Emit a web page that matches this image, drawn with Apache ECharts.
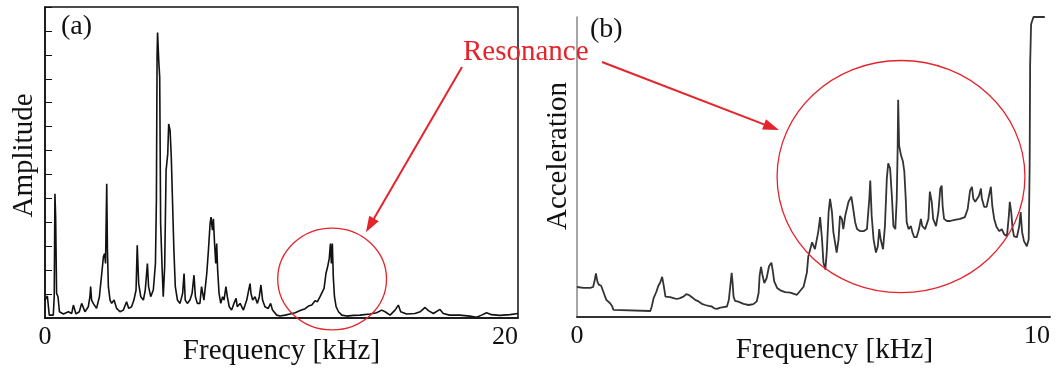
<!DOCTYPE html>
<html>
<head>
<meta charset="utf-8">
<script src="https://cdn.jsdelivr.net/npm/echarts@6/dist/echarts.min.js"></script>
<style>
  html, body { margin: 0; padding: 0; background: #fff; }
  #chart { width: 1061px; height: 370px; }
</style>
</head>
<body>
<div id="chart"></div>
<script>
// (a) amplitude spectrum, 0–20 kHz
const freqA = [
  0, 0.10, 0.18, 0.35, 0.39, 0.42, 0.45, 0.49, 0.55, 0.61, 0.78, 0.99, 1.13, 1.20, 1.31, 1.45, 1.55, 1.69, 1.83, 1.90,
  1.93, 1.97, 2.04, 2.18, 2.30, 2.40, 2.47, 2.52, 2.56, 2.61, 2.64, 2.68, 2.75, 2.82, 2.92, 3.03, 3.17, 3.31, 3.45, 3.54,
  3.66, 3.76, 3.85, 3.90, 3.96, 4.05, 4.16, 4.24, 4.33, 4.38, 4.47, 4.58, 4.67, 4.71, 4.74, 4.76, 4.81, 4.85, 4.89, 4.95,
  5.00, 5.06, 5.12, 5.19, 5.23, 5.29, 5.34, 5.41, 5.45, 5.51, 5.60, 5.71, 5.82, 5.88, 5.93, 6.02, 6.13, 6.22, 6.30, 6.36,
  6.44, 6.55, 6.62, 6.72, 6.84, 6.91, 6.98, 7.02, 7.08, 7.12, 7.17, 7.22, 7.26, 7.30, 7.36, 7.43, 7.51, 7.57, 7.65, 7.71,
  7.79, 7.89, 7.99, 8.08, 8.13, 8.25, 8.39, 8.53, 8.60, 8.67, 8.71, 8.78, 8.88, 8.98, 9.06, 9.13, 9.20, 9.30, 9.44, 9.54,
  9.62, 9.80, 9.94, 10.15, 10.36, 10.58, 10.79, 11.00, 11.14, 11.28, 11.42, 11.52, 11.63, 11.71, 11.80, 11.88, 11.95, 12.02, 12.07, 12.11,
  12.15, 12.19, 12.24, 12.31, 12.41, 12.55, 12.76, 13.04, 13.32, 13.74, 14.02, 14.24, 14.38, 14.59, 14.80, 14.94, 15.04, 15.29, 15.64, 15.86,
  16.07, 16.21, 16.42, 16.70, 16.84, 17.11, 17.54, 17.96, 18.25, 18.46, 18.67, 18.88, 19.23, 19.66, 20.00
];
const ampA = [
  0.75, 0.92, 0.12, 0.12, 0.89, 5.19, 4.22, 1.03, 0.89, 0.26, 0.17, 0.26, 0.19, 0.54, 0.17, 0.26, 0.61, 0.26, 0.47, 0.89,
  1.31, 0.75, 0.61, 0.40, 0.89, 1.86, 2.56, 2.69, 2.28, 5.61, 2.83, 1.31, 0.75, 0.61, 0.75, 0.40, 0.26, 0.33, 0.68, 0.40,
  0.47, 0.75, 1.17, 3.04, 1.44, 0.89, 0.75, 1.17, 2.28, 1.31, 0.89, 1.17, 2.28, 4.92, 11.03, 11.93, 10.75, 10.06, 3.94, 2.14,
  0.89, 2.14, 6.17, 6.86, 8.11, 7.83, 6.72, 6.72, 2.83, 1.31, 0.75, 0.61, 1.03, 1.86, 0.75, 0.61, 0.75, 1.03, 1.79, 0.89,
  0.61, 0.61, 1.31, 0.75, 1.86, 2.83, 3.94, 4.22, 3.67, 4.15, 3.11, 2.28, 3.11, 2.00, 1.03, 0.61, 0.89, 0.75, 1.31, 0.89,
  0.47, 0.33, 0.61, 0.82, 0.47, 0.61, 0.33, 0.75, 1.10, 1.44, 1.03, 0.75, 0.89, 0.61, 0.89, 1.38, 0.75, 0.47, 0.40, 0.61,
  0.33, 0.12, 0.08, 0.12, 0.17, 0.22, 0.31, 0.39, 0.50, 0.54, 0.72, 0.68, 0.89, 0.82, 1.24, 1.86, 2.14, 2.49, 3.11, 2.28,
  3.11, 1.72, 0.89, 0.47, 0.26, 0.12, 0.08, 0.11, 0.12, 0.17, 0.22, 0.33, 0.26, 0.12, 0.33, 0.54, 0.26, 0.17, 0.19, 0.26,
  0.44, 0.31, 0.19, 0.36, 0.19, 0.12, 0.12, 0.08, 0.03, 0.12, 0.22, 0.14, 0.11, 0.14, 0.19
];

// (b) acceleration spectrum, 0–10 kHz
const freqB = [
  0.00, 0.14, 0.28, 0.34, 0.37, 0.40, 0.43, 0.46, 0.51, 0.55, 0.58, 0.62, 0.65, 0.70, 0.74, 0.77, 0.81, 1.55, 1.58, 1.62,
  1.68, 1.72, 1.76, 1.80, 1.83, 1.87, 1.90, 1.97, 2.04, 2.11, 2.18, 2.25, 2.31, 2.36, 2.43, 2.50, 2.57, 2.64, 2.71, 2.78,
  2.85, 2.90, 2.96, 3.03, 3.10, 3.17, 3.21, 3.24, 3.27, 3.29, 3.31, 3.34, 3.41, 3.52, 3.63, 3.73, 3.80, 3.84, 3.86, 3.89,
  3.92, 3.96, 4.01, 4.06, 4.11, 4.14, 4.17, 4.23, 4.30, 4.40, 4.51, 4.65, 4.79, 4.86, 4.89, 4.97, 5.03, 5.10, 5.14, 5.18,
  5.21, 5.25, 5.28, 5.32, 5.35, 5.39, 5.42, 5.49, 5.53, 5.56, 5.60, 5.63, 5.67, 5.74, 5.80, 5.84, 5.88, 5.92, 5.99, 6.06,
  6.13, 6.18, 6.20, 6.23, 6.27, 6.32, 6.36, 6.39, 6.42, 6.47, 6.51, 6.55, 6.58, 6.62, 6.66, 6.69, 6.73, 6.76, 6.78, 6.79,
  6.81, 6.85, 6.89, 6.92, 6.95, 6.97, 7.01, 7.06, 7.09, 7.13, 7.18, 7.23, 7.27, 7.30, 7.36, 7.43, 7.46, 7.50, 7.53, 7.59,
  7.64, 7.68, 7.71, 7.73, 7.76, 7.82, 7.89, 7.96, 8.10, 8.20, 8.26, 8.31, 8.35, 8.38, 8.42, 8.46, 8.50, 8.54, 8.56, 8.61,
  8.66, 8.71, 8.75, 8.78, 8.82, 8.87, 8.93, 8.98, 9.03, 9.09, 9.13, 9.15, 9.18, 9.21, 9.24, 9.30, 9.35, 9.38, 9.41, 9.45,
  9.51, 9.55, 9.57, 9.58, 9.60, 9.65, 9.72, 9.89
];
const accB = [
  10.0, 9.7, 9.7, 10.0, 11.9, 14.5, 11.9, 10.8, 10.4, 10.0, 7.4, 5.7, 5.2, 4.6, 3.7, 2.4, 2.0, 2.0, 3.5, 6.3,
  8.5, 10.4, 11.5, 13.4, 10.8, 6.8, 6.3, 6.6, 6.3, 6.0, 6.3, 6.8, 7.6, 7.4, 6.6, 5.7, 5.2, 4.4, 4.0, 3.7,
  3.5, 2.9, 2.7, 3.1, 3.3, 3.5, 5.7, 10.2, 14.7, 11.3, 6.8, 5.4, 5.1, 4.4, 4.0, 4.3, 5.2, 8.0, 13.6, 16.7,
  14.1, 11.3, 13.0, 16.9, 18.1, 15.3, 11.9, 9.7, 8.9, 8.3, 8.1, 7.4, 10.1, 14.8, 20.2, 24.9, 22.6, 28.3, 33.3, 25.9,
  18.2, 15.8, 21.5, 35.0, 39.4, 35.0, 28.3, 21.5, 25.9, 33.7, 32.7, 29.3, 33.7, 38.4, 40.1, 36.0, 31.6, 29.3, 28.6, 28.6,
  29.3, 39.4, 45.5, 33.7, 25.9, 21.5, 23.6, 29.3, 25.9, 22.6, 30.3, 46.1, 51.2, 49.5, 39.4, 30.3, 29.3, 39.4, 57.2, 72.4,
  57.2, 53.9, 51.9, 48.5, 39.4, 31.6, 29.3, 30.3, 28.3, 26.6, 26.6, 29.3, 32.7, 30.3, 29.3, 32.7, 41.8, 38.4, 32.7, 30.3,
  35.0, 42.8, 43.8, 37.0, 32.7, 32.0, 32.0, 32.3, 32.7, 33.3, 36.0, 42.1, 43.4, 39.4, 38.4, 38.4, 40.4, 42.8, 39.4, 36.7,
  36.7, 40.4, 43.4, 37.0, 32.7, 30.0, 28.6, 29.3, 27.6, 26.9, 33.7, 38.4, 35.0, 29.3, 26.9, 26.6, 30.3, 35.0, 28.3, 25.3,
  23.6, 25.9, 50.5, 84.2, 97.6, 100, 100, 100
];

const panelLabels = ['(a)', '(b)'];
const axisNameX = 'Frequency [kHz]';
const axisNameYA = 'Amplitude';
const axisNameYB = 'Acceleration';
const noteText = 'Resonance';

// circled regions in data units: [centre freq, centre value, radius x (kHz), radius y (value)]
const ringA = [12.14, 1.63, 2.30, 2.13];
const ringB = [6.85, 46.8, 2.62, 38.7];
// arrow tips in data units
const tipA = [13.57, 3.58];
const tipB = [4.27, 62.3];

const SERIF = '"Liberation Serif", "Times New Roman", serif';
const RED = '#e5232b';
const INK = '#111';
const NAME_SIZE = 29;

const zip = (xs, ys) => xs.map((x, i) => [x, ys[i]]);

const chart = echarts.init(document.getElementById('chart'), null, { renderer: 'canvas' });

const xAxisCommon = {
  type: 'value',
  name: axisNameX,
  nameLocation: 'middle',
  nameGap: 19,
  nameMoveOverlap: false,
  nameTextStyle: { fontFamily: SERIF, fontSize: NAME_SIZE, color: INK },
  axisTick: { show: false },
  splitLine: { show: false },
  axisLabel: { fontFamily: SERIF, fontSize: 26, color: INK, margin: 6, alignMaxLabel: 'right' }
};

chart.setOption({
  animation: false,
  title: [
    { text: panelLabels[0], left: 61, top: 13, padding: 0,
      textStyle: { fontFamily: SERIF, fontSize: 28, fontWeight: 'normal', color: INK } },
    { text: panelLabels[1], left: 590, top: 16, padding: 0,
      textStyle: { fontFamily: SERIF, fontSize: 28, fontWeight: 'normal', color: INK } }
  ],
  grid: [
    { left: 45, top: 7, width: 473, height: 311, outerBoundsMode: 'none', containLabel: false,
      show: true, borderColor: INK, borderWidth: 1.5, backgroundColor: 'transparent' },
    { left: 577, top: 17, width: 473, height: 300, outerBoundsMode: 'none', containLabel: false }
  ],
  xAxis: [
    Object.assign({}, xAxisCommon, {
      gridIndex: 0, min: 0, max: 20, interval: 20,
      axisLine: { show: true, lineStyle: { color: INK, width: 1.5 } }
    }),
    Object.assign({}, xAxisCommon, {
      gridIndex: 1, min: 0, max: 10, interval: 10,
      nameTextStyle: { fontFamily: SERIF, fontSize: NAME_SIZE, color: INK, padding: [0, 0, 0, 42] },
      axisLine: { show: true, lineStyle: { color: '#333', width: 2 } }
    })
  ],
  yAxis: [
    {
      type: 'value', gridIndex: 0, min: 0, max: 13, interval: 1,
      name: axisNameYA, nameLocation: 'middle', nameGap: 6, nameMoveOverlap: false,
      nameTextStyle: { fontFamily: SERIF, fontSize: NAME_SIZE, color: INK, padding: [0, 0, 0, 14] },
      axisLine: { show: true, lineStyle: { color: INK, width: 1.5 } },
      axisTick: { show: true, inside: true, length: 7, lineStyle: { color: INK, width: 1 } },
      axisLabel: { show: false },
      splitLine: { show: false }
    },
    {
      type: 'value', gridIndex: 1, min: 0, max: 100,
      name: axisNameYB, nameLocation: 'middle', nameGap: 4, nameMoveOverlap: false,
      nameTextStyle: { fontFamily: SERIF, fontSize: NAME_SIZE, color: INK, padding: [0, 0, 0, 22] },
      axisLine: { show: true, lineStyle: { color: '#888', width: 1.5 } },
      axisTick: { show: false },
      axisLabel: { show: false },
      splitLine: { show: false }
    }
  ],
  series: [
    {
      type: 'line', xAxisIndex: 0, yAxisIndex: 0, data: zip(freqA, ampA),
      symbol: 'none', lineStyle: { color: INK, width: 1.6 }, clip: false
    },
    {
      type: 'line', xAxisIndex: 1, yAxisIndex: 1, data: zip(freqB, accB),
      symbol: 'none', lineStyle: { color: '#333', width: 1.8 }, clip: false
    }
  ]
});

// red annotation: label, arrows, and ellipses around the resonance zones
function arrow(x1, y1, x2, y2) {
  const dx = x2 - x1, dy = y2 - y1, L = Math.hypot(dx, dy);
  const ux = dx / L, uy = dy / L, hl = 16, hw = 5.5;
  const bx = x2 - ux * hl, by = y2 - uy * hl;
  return [
    { type: 'line', shape: { x1: x1, y1: y1, x2: bx + ux * 2, y2: by + uy * 2 },
      style: { stroke: RED, lineWidth: 2 }, z: 100 },
    { type: 'polygon', shape: { points: [[x2, y2], [bx - uy * hw, by + ux * hw], [bx + uy * hw, by - ux * hw]] },
      style: { fill: RED }, z: 100 }
  ];
}
function ring(gridIndex, r) {
  const c = chart.convertToPixel({ gridIndex: gridIndex }, [r[0], r[1]]);
  const e = chart.convertToPixel({ gridIndex: gridIndex }, [r[0] + r[2], r[1] + r[3]]);
  return { type: 'ellipse', shape: { cx: c[0], cy: c[1], rx: Math.abs(e[0] - c[0]), ry: Math.abs(c[1] - e[1]) },
    style: { stroke: RED, fill: null, lineWidth: 1.3 }, z: 100 };
}
const pA = chart.convertToPixel({ gridIndex: 0 }, tipA);
const pB = chart.convertToPixel({ gridIndex: 1 }, tipB);

chart.setOption({
  graphic: [
    { type: 'text', x: 463, y: 52, z: 100,
      style: { text: noteText, fill: RED, font: NAME_SIZE + 'px ' + SERIF, verticalAlign: 'middle', align: 'left' } },
    ...arrow(462, 67, pA[0], pA[1]),
    ...arrow(602, 62, pB[0], pB[1]),
    ring(0, ringA),
    ring(1, ringB)
  ]
});
</script>
</body>
</html>
